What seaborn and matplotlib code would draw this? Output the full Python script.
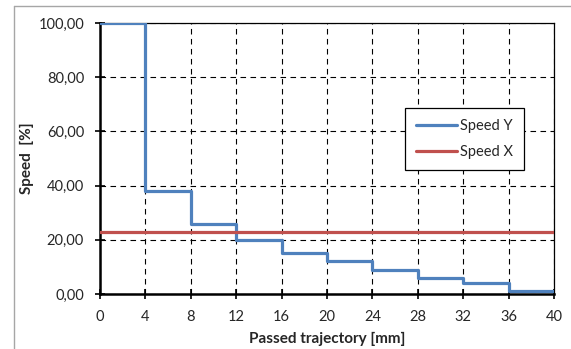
import numpy as np
import pandas as pd
import seaborn as sns
import matplotlib.pyplot as plt
from matplotlib.lines import Line2D
from matplotlib.ticker import FuncFormatter

# Data
trajectory = [0, 4, 8, 12, 16, 20, 24, 28, 32, 36, 40]
speed_y = [100, 38, 26, 20, 15, 12, 9, 6, 4, 1.2, 1.2]
speed_x_level = 23
speed_x_ends = [0, 40]

sns.set_style('white')
plt.rcParams['font.family'] = ['Lato', 'DejaVu Sans']

fig = plt.figure(figsize=(5.71, 3.49), dpi=100)
ax = fig.add_axes([100 / 571, 1 - 294 / 349, 454 / 571, 271 / 349])

# outer grey frame of the chart area (top and left edges only are visible)
fx, fy = 13.5 / 571, 1 - 5.5 / 349
fig.lines.append(Line2D([fx, 1.0], [fy, fy], transform=fig.transFigure,
                        color='#a6a6a6', linewidth=1.0))
fig.lines.append(Line2D([fx, fx], [0.0, fy], transform=fig.transFigure,
                        color='#a6a6a6', linewidth=1.0))

df_y = pd.DataFrame({'x': trajectory, 'y': speed_y})
df_x = pd.DataFrame({'x': speed_x_ends, 'y': [speed_x_level] * 2})

sns.lineplot(data=df_y, x='x', y='y', ax=ax, color='#4f81bd', linewidth=2.3,
             drawstyle='steps-post', label='Speed Y', zorder=3)
sns.lineplot(data=df_x, x='x', y='y', ax=ax, color='#c0504d', linewidth=2.3,
             label='Speed X', zorder=3)

ax.set_xlim(0, 40)
ax.set_ylim(0, 100)
ax.set_xticks(range(0, 41, 4))
ax.set_yticks(range(0, 101, 20))
ax.yaxis.set_major_formatter(FuncFormatter(lambda v, p: f'{v:.2f}'.replace('.', ',')))

ax.grid(True, color='black', linestyle=(0, (5, 4)), linewidth=0.8)
for side in ['left', 'bottom']:
    ax.spines[side].set_linewidth(1.8)
    ax.spines[side].set_color('black')
for side in ['top', 'right']:
    ax.spines[side].set_linewidth(0.9)
    ax.spines[side].set_color('black')

ax.tick_params(axis='both', direction='inout', length=7, width=1.2, color='black',
               labelsize=10.5, bottom=True, left=True)
ax.tick_params(axis='x', pad=8)
ax.tick_params(axis='y', pad=8)

ax.set_xlabel('Passed trajectory [mm]', fontsize=11, fontweight='bold', labelpad=6)
ax.set_ylabel('Speed  [%]', fontsize=11, fontweight='bold', labelpad=3)

leg = ax.legend(loc='upper left', bbox_to_anchor=(305 / 454, 1 - 85 / 271),
                frameon=True, fancybox=False, fontsize=10.5, handlelength=2.8,
                handletextpad=0.2, borderpad=0.75, labelspacing=0.8,
                borderaxespad=0)
leg.get_frame().set_edgecolor('black')
leg.get_frame().set_linewidth(0.9)
leg.get_frame().set_alpha(1)

fig.savefig('out.png', dpi=100)
